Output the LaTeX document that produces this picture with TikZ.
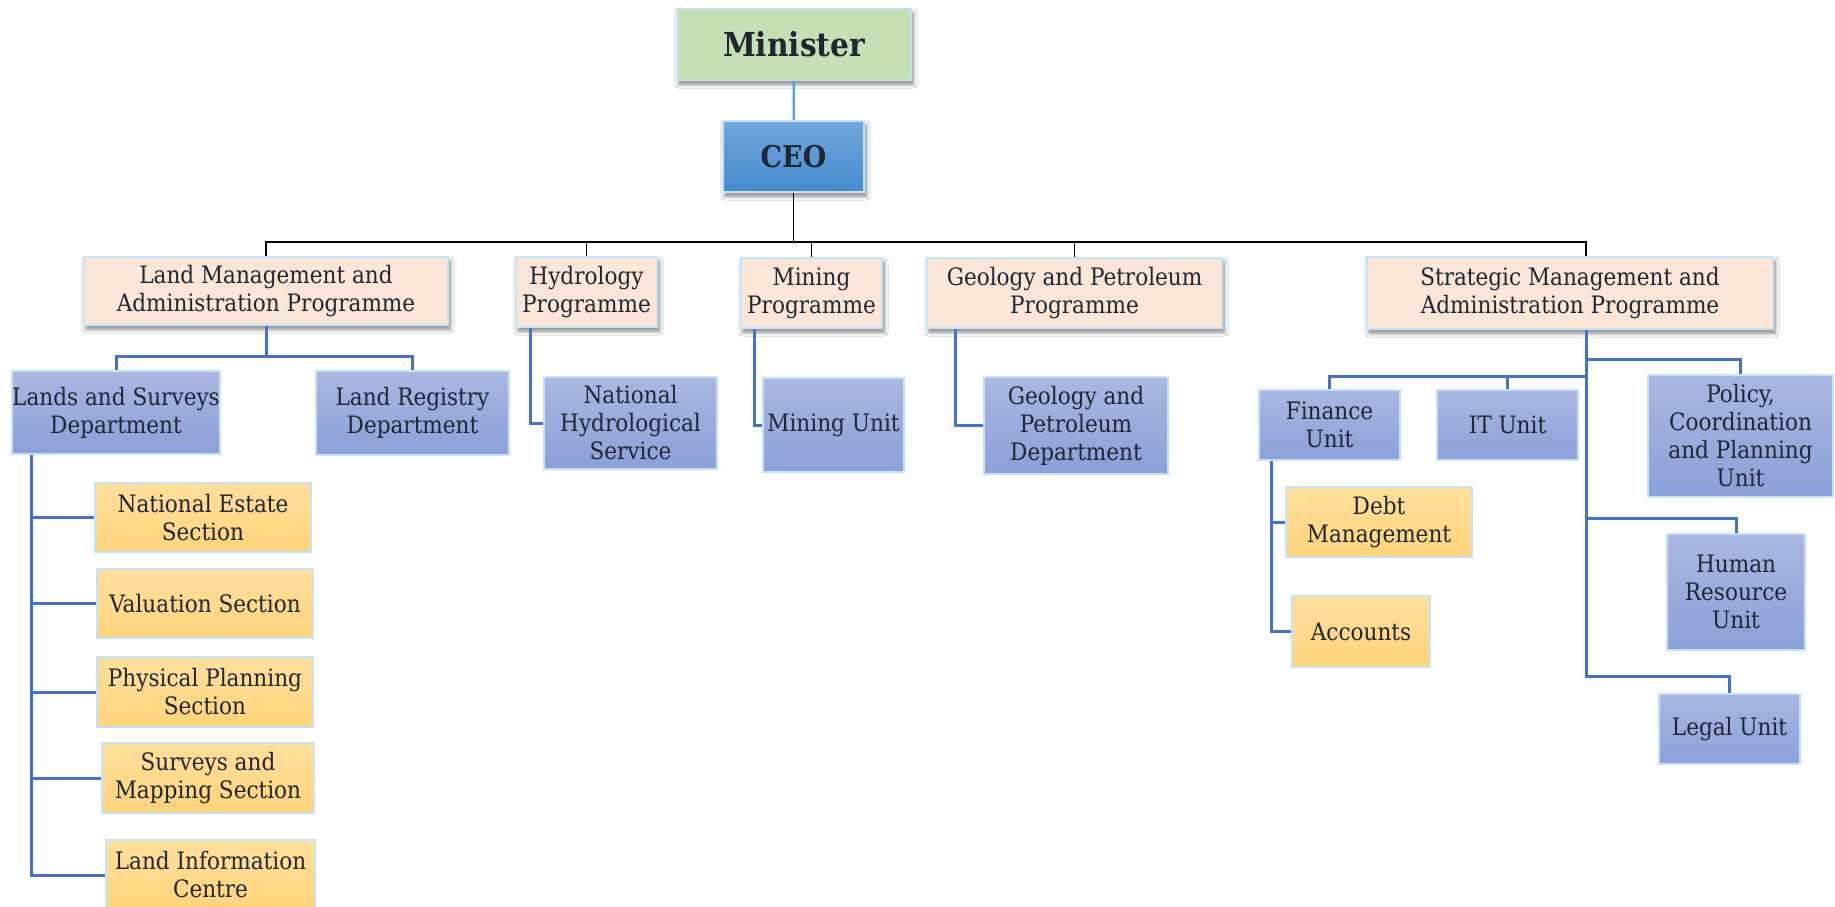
\documentclass[tikz,border=0pt]{standalone}
\usepackage{fontspec}
\setmainfont{DejaVu Serif Condensed}
\usetikzlibrary{shadows.blur}
\definecolor{inkc}{RGB}{30,38,50}
\definecolor{edgec}{RGB}{197,227,246}
\definecolor{minc}{RGB}{197,224,180}
\definecolor{ceotop}{RGB}{112,166,221}
\definecolor{ceobot}{RGB}{70,139,206}
\definecolor{progc}{RGB}{251,229,214}
\definecolor{unittop}{RGB}{170,184,225}
\definecolor{unitbot}{RGB}{138,160,216}
\definecolor{sectop}{RGB}{255,223,158}
\definecolor{secbot}{RGB}{255,211,122}
\definecolor{linkc}{RGB}{68,114,196}
\definecolor{minlinec}{RGB}{91,155,213}
\begin{document}
\begin{tikzpicture}[x=0.5pt, y=-0.5pt]
  \tikzset{
    sz/.style 2 args={minimum width=#1*0.5pt, minimum height=#2*0.5pt},
    box/.style={rectangle, draw=edgec, line width=0.8pt, inner sep=0pt, align=center,
                text=inkc, font=\fontsize{12}{14}\selectfont},
    shad/.style={blur shadow={shadow xshift=1pt, shadow yshift=-2pt,
                 shadow blur steps=6, shadow opacity=50}},
    headbox/.style={box, fill=minc, shad, font=\bfseries\fontsize{16.5}{20}\selectfont},
    ceobox/.style={box, top color=ceotop, bottom color=ceobot, shad,
                   font=\bfseries\fontsize{15}{18}\selectfont},
    progbox/.style={box, fill=progc, shad},
    unitbox/.style={box, top color=unittop, bottom color=unitbot},
    secbox/.style={box, top color=sectop, bottom color=secbot},
    topline/.style={draw=black, line width=0.75pt},
    link/.style={draw=linkc, line width=1.5pt},
    minline/.style={draw=minlinec, line width=1.1pt},
  }
  \fill[white] (0,0) rectangle (1835,906);
  \useasboundingbox (0,0) rectangle (1835,906);
  % Top of the tree
  \node[headbox, sz={234}{71}] (minister) at (794,44.5) {Minister};
  \node[ceobox, sz={141}{71}] (ceo) at (793.5,156.5) {CEO};
  % Programmes (second row)
  \node[progbox, sz={364}{68}] (lma) at (266,291) {Land Management and\\Administration Programme};
  \node[progbox, sz={141}{70}] (hyd) at (586.5,292) {Hydrology\\Programme};
  \node[progbox, sz={141}{70}] (mng) at (811.5,293) {Mining\\Programme};
  \node[progbox, sz={295}{70}] (geo) at (1074.5,293) {Geology and Petroleum\\Programme};
  \node[progbox, sz={406}{72}] (sma) at (1570,293) {Strategic Management and\\Administration Programme};
  % Departments and units
  \node[unitbox, sz={208}{83}] (lsd) at (116,412.5) {Lands and Surveys\\Department};
  \node[unitbox, sz={193}{84}] (lrd) at (412.5,413) {Land Registry\\Department};
  \node[unitbox, sz={173}{92}] (nhs) at (630.5,423) {National\\Hydrological\\Service};
  \node[unitbox, sz={141}{94}] (mu) at (833.5,425) {Mining Unit};
  \node[unitbox, sz={184}{97}] (gpd) at (1076,425.5) {Geology and\\Petroleum\\Department};
  \node[unitbox, sz={141}{70}] (fin) at (1329.5,425) {Finance\\Unit};
  \node[unitbox, sz={141}{70}] (itu) at (1507.5,425) {IT Unit};
  \node[unitbox, sz={185}{122}] (pcp) at (1740.5,436) {Policy,\\Coordination\\and Planning\\Unit};
  \node[unitbox, sz={138}{116}] (hru) at (1736,592) {Human\\Resource\\Unit};
  \node[unitbox, sz={141}{70}] (lgu) at (1729.5,729) {Legal Unit};
  % Sections
  \node[secbox, sz={216}{69}] (nes) at (203,517.5) {National Estate\\Section};
  \node[secbox, sz={216}{69}] (val) at (205,603.5) {Valuation Section};
  \node[secbox, sz={216}{70}] (ppl) at (205,692) {Physical Planning\\Section};
  \node[secbox, sz={212}{70}] (smp) at (208,778) {Surveys and\\Mapping Section};
  \node[secbox, sz={209}{70}] (lic) at (210.5,875) {Land Information\\Centre};
  \node[secbox, sz={186}{70}] (dbt) at (1379,522) {Debt\\Management};
  \node[secbox, sz={138}{71}] (acc) at (1361,631.5) {Accounts};
  % Bus levels
  \coordinate (bus) at (0,242);
  \coordinate (lmabus) at (0,356);
  \coordinate (smabusA) at (0,359);
  \coordinate (smabusB) at (0,376);
  \coordinate (smabusC) at (0,518);
  \coordinate (smabusD) at (0,676);
  \coordinate (smarail) at ([xshift=8pt]sma.south);
  % Connectors
  \draw[minline] (minister) -- (ceo);
  \foreach \p in {lma,hyd,mng,geo}
    \draw[topline] (ceo.south) -- (ceo.south |- bus) -| (\p.north);
  \draw[topline] (ceo.south) -- (ceo.south |- bus) -| ([xshift=8pt]sma.north);
  \foreach \c in {lsd,lrd}
    \draw[link] (lma.south) -- (lma.south |- lmabus) -| (\c.north);
  \foreach \c in {nes,val,ppl,smp,lic}
    \draw[link] ([xshift=10pt]lsd.south west) |- (\c.west);
  \draw[link] ([xshift=7.5pt]hyd.south west) |- (nhs.west);
  \draw[link] ([xshift=7pt]mng.south west) |- (mu.west);
  \draw[link] ([xshift=14.5pt]geo.south west) |- (gpd.west);
  \draw[link] (smarail) -- (smarail |- smabusA) -| (pcp.north);
  \foreach \c in {fin,itu}
    \draw[link] (smarail) -- (smarail |- smabusB) -| (\c.north);
  \draw[link] (smarail) -- (smarail |- smabusC) -| (hru.north);
  \draw[link] (smarail) -- (smarail |- smabusD) -| (lgu.north);
  \foreach \c in {dbt,acc}
    \draw[link] ([xshift=6.5pt]fin.south west) |- (\c.west);
\end{tikzpicture}
\end{document}
